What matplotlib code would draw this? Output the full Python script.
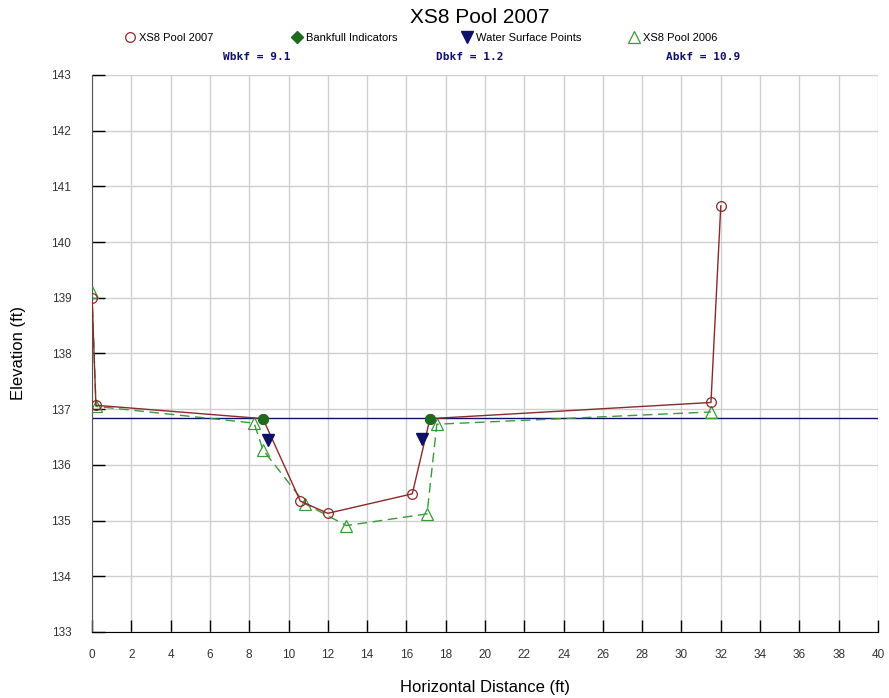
import numpy as np
import matplotlib
matplotlib.use("Agg")
import matplotlib.pyplot as plt
from matplotlib.lines import Line2D

plt.rcParams['font.family'] = ['Liberation Sans', 'DejaVu Sans']

# XS8 Pool 2007 survey
x_2007 = [0.0, 0.2, 8.7, 10.6, 12.0, 16.3, 17.2, 31.5, 32.0]
y_2007 = [139.0, 137.07, 136.83, 135.35, 135.13, 135.48, 136.83, 137.12, 140.65]

# XS8 Pool 2006 survey
x_2006 = [0.0, 0.2, 8.25, 8.7, 10.85, 12.95, 17.05, 17.55, 31.5]
y_2006 = [139.1, 137.05, 136.75, 136.27, 135.3, 134.91, 135.12, 136.73, 136.95]

# bankfull indicators and water surface points
x_bkf = [8.7, 17.2]
y_bkf = [136.83, 136.83]
x_ws = [8.95, 16.8]
y_ws = [136.45, 136.46]

bankfull_elev = 136.84
stats = ["Wbkf = 9.1", "Dbkf = 1.2", "Abkf = 10.9"]

red = "#8a2a2a"
green = "#3a9a3a"
dkgreen = "#1e6b1e"
navy = "#10106a"

fig = plt.figure(figsize=(8.89, 6.98), dpi=100)
ax = fig.add_axes([0.1035, 0.0946, 0.8841, 0.798])

ax.axhline(bankfull_elev, color=navy, lw=1, zorder=2)
ax.plot(x_2006, y_2006, color=green, lw=1, ls=(0, (7, 4)), marker='^', ms=8,
        mfc='none', mec=green, mew=0.9, zorder=3)
ax.plot(x_2007, y_2007, color=red, lw=1, marker='o', ms=7,
        mfc='none', mec=red, mew=0.9, zorder=4)
ax.plot(x_bkf, y_bkf, ls='none', marker='o', ms=7, color=dkgreen, zorder=5)
ax.plot(x_ws, y_ws, ls='none', marker='v', ms=9, color=navy, zorder=5)

ax.set_xlim(0, 40)
ax.set_ylim(133, 143)
ax.set_xticks(np.arange(0, 41, 2))
ax.set_yticks(np.arange(133, 144, 1))
ax.grid(True, color='#cfcfcf', lw=1)
ax.set_axisbelow(True)
for s in ['top', 'right']:
    ax.spines[s].set_visible(False)
ax.spines['left'].set_color('#555555')
ax.spines['bottom'].set_color('black')
ax.tick_params(axis='both', direction='in', length=9, width=1, color='black',
               labelsize=8.5, labelcolor='#333333')
ax.tick_params(axis='y', pad=15)
ax.tick_params(axis='x', pad=12)

ax.set_xlabel("Horizontal Distance (ft)", fontsize=12)
ax.set_ylabel("Elevation (ft)", fontsize=12)
ax.xaxis.set_label_coords(0.5, -0.1005)
ax.yaxis.set_label_coords(-0.094, 0.5)
ax.xaxis.label.set_va('center')
ax.yaxis.label.set_va('center')

fig.text(0.54, 0.975, "XS8 Pool 2007", ha='center', va='center', fontsize=15)

handles = [
    Line2D([], [], ls='none', marker='o', ms=7, mfc='none', mec=red, mew=0.9),
    Line2D([], [], ls='none', marker='D', ms=6, color=dkgreen),
    Line2D([], [], ls='none', marker='v', ms=8, color=navy),
    Line2D([], [], ls='none', marker='^', ms=8, mfc='none', mec=green, mew=0.9),
]
labels = ["XS8 Pool 2007", "Bankfull Indicators", "Water Surface Points", "XS8 Pool 2006"]
leg_x = [126, 293, 463, 630]
for h, l, px in zip(handles, labels, leg_x):
    fig.legend([h], [l], loc='center left', bbox_to_anchor=(px / 889, 1 - 38 / 698),
               frameon=False, fontsize=8, handlelength=0.8, handletextpad=0.4,
               borderpad=0, borderaxespad=0)

for txt, px in zip(stats, [257, 470, 703]):
    fig.text(px / 889, 1 - 57 / 698, txt, ha='center', va='center',
             fontsize=8, family='DejaVu Sans Mono', weight='bold', color=navy)

fig.savefig("out.png", dpi=100)
